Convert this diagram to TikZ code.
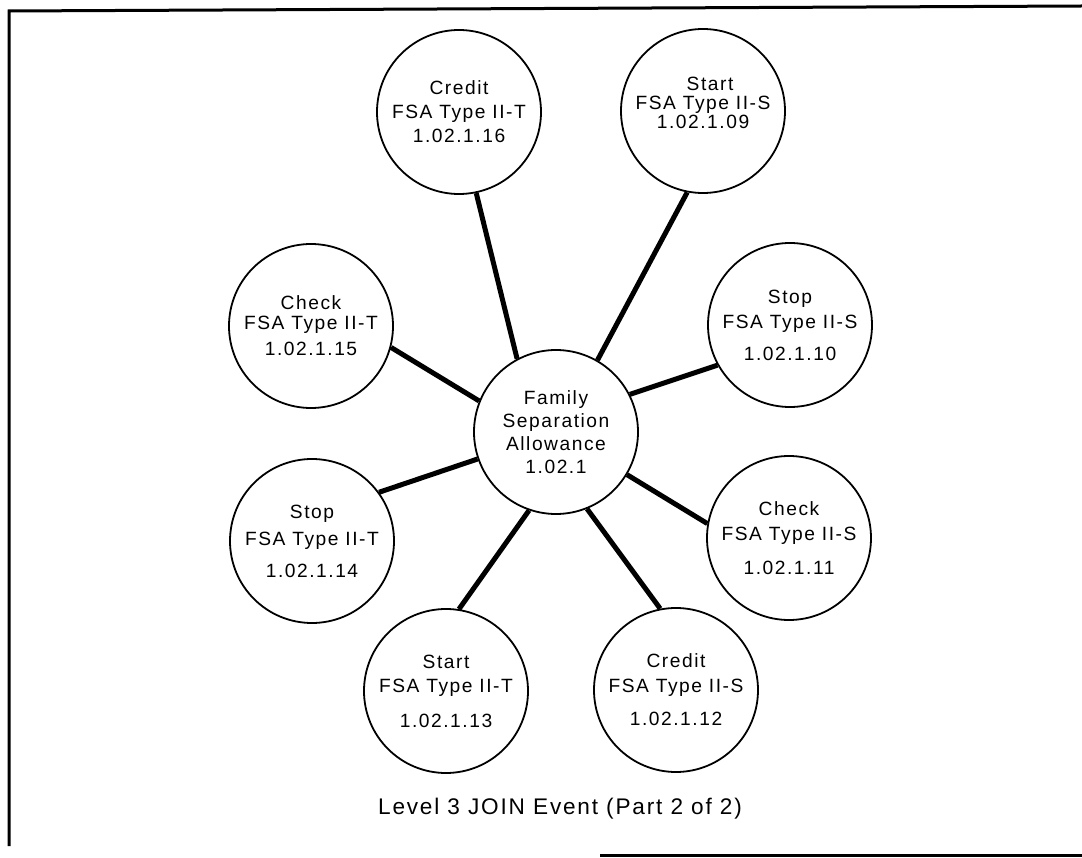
\documentclass[tikz,border=0pt]{standalone}
\usepackage{fontspec}
\setmainfont{Liberation Sans}[LetterSpace=8]
\begin{document}
\begin{tikzpicture}[x=1pt,y=-1pt,
  bub/.style={draw, circle, line width=1.8pt, minimum size=164pt, inner sep=0pt, align=center, font=\fontsize{19.2}{24}\selectfont},
  link/.style={line width=5pt},
  frame/.style={line width=3pt}]
\useasboundingbox (0,0) rectangle (1082,858);
% frame
\draw[frame] (9,846) -- (9,11) -- (1082,6);
\draw[frame] (600,855) -- (1082,855);
% nodes
\node[bub] (c) at (556,432) {Family\\[-1pt]Separation\\[-1pt]Allowance\\[-1pt]1.02.1};
\node[bub] (n1) at (459,112) {Credit\\FSA Type II-T\\1.02.1.16};
\node[bub] (n2) at (703,111) {\hspace*{14pt}Start\\[-5pt]FSA Type II-S\\[-5pt]1.02.1.09\\[-8pt]\mbox{}};
\node[bub] (n3) at (311,326) {Check\\[-4pt]FSA Type II-T\\[2pt]1.02.1.15};
\node[bub] (n4) at (790,325) {Stop\\[1pt]FSA Type II-S\\[8pt]1.02.1.10};
\node[bub] (n5) at (312,541) {Stop\\[3pt]FSA Type II-T\\[8pt]1.02.1.14};
\node[bub] (n6) at (789,538) {Check\\[1pt]FSA Type II-S\\[10pt]1.02.1.11};
\node[bub] (n7) at (446,691) {Start\\FSA Type II-T\\[11pt]1.02.1.13};
\node[bub] (n8) at (676,690) {Credit\\[1pt]FSA Type II-S\\[9pt]1.02.1.12};
% connectors
\draw[link] (n1.-78) -- (c.118.6);
\draw[link] (n2.-101.7) -- (c.60.4);
\draw[link] (n3.-15.6) -- (c.158.7);
\draw[link] (n4.-151) -- (c.27.2);
\draw[link] (n5.36.6) -- (c.-161);
\draw[link] (n6.170) -- (c.-31.7);
\draw[link] (n7.81) -- (c.-109.3);
\draw[link] (n8.101.6) -- (c.-68.7);
% caption
\node[font=\fontsize{22.6}{27}\selectfont] (cap) at (560,809) {Level 3 JOIN Event (Part 2 of 2)};
\end{tikzpicture}
\end{document}
